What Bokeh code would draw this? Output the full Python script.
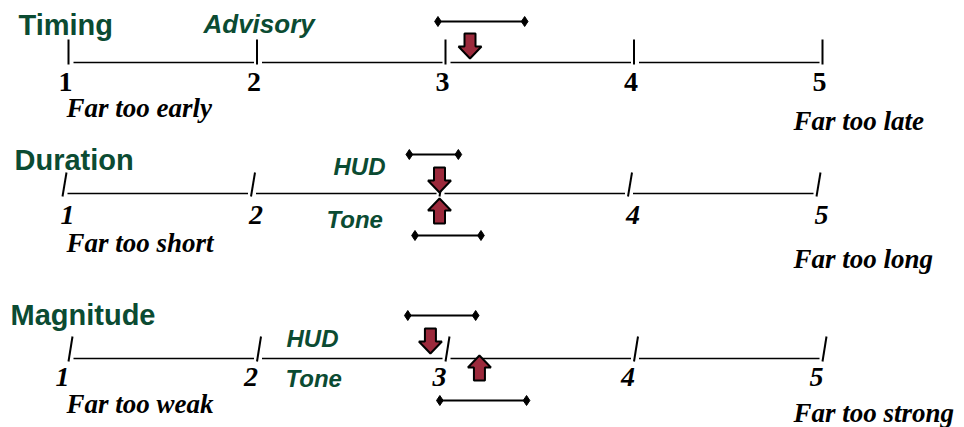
from bokeh.plotting import figure
from bokeh.models import Range1d
from bokeh.core.properties import value
from bokeh.embed import file_html
from bokeh.resources import INLINE

# ---------------- data ----------------
scale_values = [1, 2, 3, 4, 5]
dimensions = ["Timing", "Duration", "Magnitude"]
timing_tick_labels = ["1", "2", "3", "4", "5"]
duration_tick_labels = ["1", "2", "", "4", "5"]
magnitude_tick_labels = ["1", "2", "3", "4", "5"]
anchors_low = ["Far too early", "Far too short", "Far too weak"]
anchors_high = ["Far too late", "Far too long", "Far too strong"]

timing_series = ["Advisory"]
timing_mean = [3.13]
timing_lo = [2.96]
timing_hi = [3.42]

duration_series = ["HUD", "Tone"]
duration_mean = [3.00, 3.00]
duration_lo = [2.84, 2.87]
duration_hi = [3.10, 3.22]

magnitude_series = ["HUD", "Tone"]
magnitude_mean = [2.92, 3.18]
magnitude_lo = [2.80, 2.97]
magnitude_hi = [3.16, 3.43]

# ---------------- styling / layout ----------------
GREEN = "#0b4b32"
RED = "#9c2a3c"
SANS = "Liberation Sans"
SERIF = "Liberation Serif"
U = 188.5            # pixels per scale unit
W, H = 964, 427
X0 = 1 - 68 / U
X1 = X0 + W / U

p = figure(width=W, height=H, output_backend="svg", toolbar_location=None,
           x_range=Range1d(X0, X1), y_range=Range1d(H, 0),
           min_border=0)
p.axis.visible = False
p.grid.visible = False
p.outline_line_color = None
p.background_fill_color = "white"
p.border_fill_color = "white"


def px(n):
    return n / U


def at(xp):
    return X0 + px(xp)


def txt(x, y, s, font, size, style, color, align="left"):
    k = 0.38 * size
    p.text(x=x, y=[v - k for v in y], text=s, text_font=value(font), text_font_size=f"{size}px",
           text_font_style=style, text_color=color, text_align=align,
           text_baseline="alphabetic")


def draw_scale(shift, kind, line_y, t_top, t_bot, labels, lab_y, lab_dx, lab_style):
    ticks = [v + px(shift) for v in scale_values]
    p.segment(x0=[t + px(5) for t in ticks[:-1]], x1=[t - px(3) for t in ticks[1:]],
              y0=[line_y] * 4, y1=[line_y] * 4, line_color="black", line_width=1.6)
    if kind == "bar":
        p.segment(x0=ticks, x1=ticks, y0=[t_top] * 5, y1=[t_bot] * 5,
                  line_color="black", line_width=2)
    else:
        p.segment(x0=ticks, x1=[t + px(4) for t in ticks], y0=[t_bot] * 5, y1=[t_top] * 5,
                  line_color="black", line_width=2)
    txt([t + px(lab_dx) for t in ticks], [lab_y] * 5, labels, SERIF, 28, lab_style, "black", "center")


def draw_bar(shift, lo, hi, y):
    a, b = lo + px(shift), hi + px(shift)
    p.segment(x0=[a], x1=[b], y0=[y], y1=[y], line_color="black", line_width=2)
    p.scatter(x=[a, b], y=[y, y], marker="diamond", size=10, fill_color="black", line_color="black")


def draw_arrow(shift, mean, tip_y, direction):
    # direction +1 : pointing down, -1 : pointing up
    x = mean + px(shift)
    shape = [(-5.5, -25), (5.5, -25), (5.5, -12), (11.5, -12), (0, 0), (-11.5, -12), (-5.5, -12)]
    xs = [x + px(dx) for dx, dy in shape]
    ys = [tip_y + direction * dy for dx, dy in shape]
    p.patches(xs=[xs], ys=[ys], fill_color=RED, line_color="black", line_width=2)


# ---------------- Timing ----------------
txt([at(18)], [36], [dimensions[0]], SANS, 29, "bold", GREEN)
draw_scale(0, "bar", 62, 39, 64, timing_tick_labels, 92, -3, "bold")
txt([at(66)], [118], [anchors_low[0]], SERIF, 27, "bold italic", "black")
txt([at(793)], [131], [anchors_high[0]], SERIF, 27, "bold italic", "black")
txt([at(203)], [33], [timing_series[0]], SANS, 26, "bold italic", GREEN)
draw_bar(0, timing_lo[0], timing_hi[0], 21)
draw_arrow(0, timing_mean[0], 58, 1)

# ---------------- Duration ----------------
DS = -6
txt([at(14)], [171], [dimensions[1]], SANS, 29, "bold", GREEN)
draw_scale(DS, "slash", 193, 172, 196, duration_tick_labels, 225, 5, "bold italic")
txt([at(66)], [253], [anchors_low[1]], SERIF, 27, "bold italic", "black")
txt([at(793)], [269], [anchors_high[1]], SERIF, 27, "bold italic", "black")
txt([at(333)], [175], [duration_series[0]], SANS, 24, "bold italic", GREEN)
txt([at(326)], [228], [duration_series[1]], SANS, 24, "bold italic", GREEN)
draw_bar(DS, duration_lo[0], duration_hi[0], 154)
draw_bar(DS, duration_lo[1], duration_hi[1], 235)
draw_arrow(DS, duration_mean[0], 192, 1)
draw_arrow(DS, duration_mean[1], 198, -1)

# ---------------- Magnitude ----------------
txt([at(10)], [326], [dimensions[2]], SANS, 29, "bold", GREEN)
draw_scale(0, "slash", 358, 336, 361, magnitude_tick_labels, 387, -6, "bold italic")
txt([at(66)], [414], [anchors_low[2]], SERIF, 27, "bold italic", "black")
txt([at(793)], [423], [anchors_high[2]], SERIF, 27, "bold italic", "black")
txt([at(286)], [347], [magnitude_series[0]], SANS, 24, "bold italic", GREEN)
txt([at(285)], [387], [magnitude_series[1]], SANS, 24, "bold italic", GREEN)
draw_bar(0, magnitude_lo[0], magnitude_hi[0], 315)
draw_bar(0, magnitude_lo[1], magnitude_hi[1], 400)
draw_arrow(0, magnitude_mean[0], 353, 1)
draw_arrow(0, magnitude_mean[1], 355, -1)

open("out.html", "w").write(file_html(p, INLINE))
